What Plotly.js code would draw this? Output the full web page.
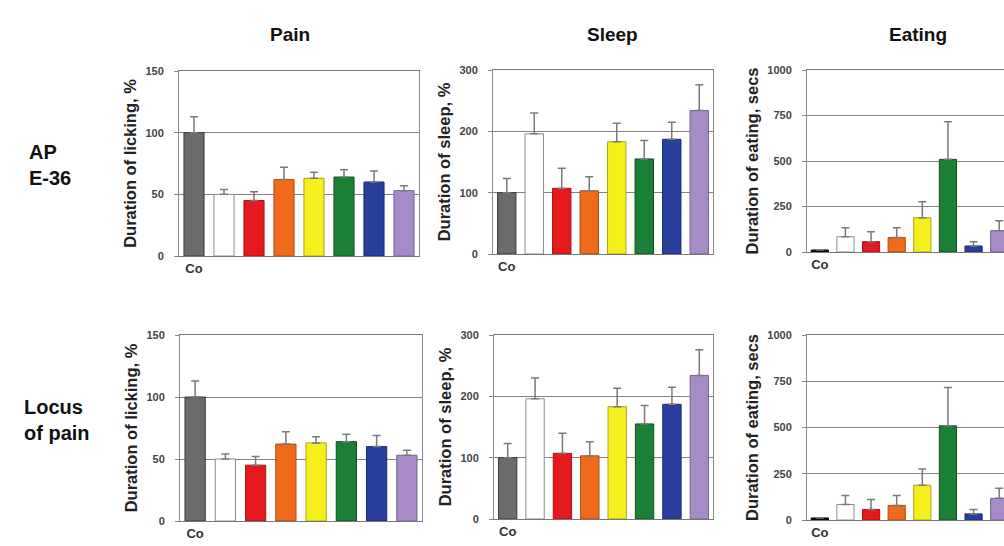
<!DOCTYPE html>
<html>
<head>
<meta charset="utf-8">
<script src="https://cdn.plot.ly/plotly-3.0.1.min.js"></script>
<style>
html, body { margin: 0; padding: 0; overflow: hidden; background: #ffffff; }
#chart { width: 1020px; height: 546px; }
</style>
</head>
<body>
<div id="chart"></div>
<script>
// ---- data ----
const categories = ['Co', 'G2', 'G3', 'G4', 'G5', 'G6', 'G7', 'G8'];
const tickLabels = ['Co'];
const columnTitles = ['Pain', 'Sleep', 'Eating'];
const rowLabels = ['AP<br>E-36', 'Locus<br>of pain'];
const yTitles = ['Duration of licking, %', 'Duration of sleep, %', 'Duration of eating, secs'];

const painValuesAP = [100, 50, 45, 62, 63, 64, 60, 53];
const painErrorsAP = [13, 4, 7, 10, 5, 6, 9, 4];
const sleepValuesAP = [100, 196, 107, 103, 183, 155, 187, 234];
const sleepErrorsAP = [23, 34, 33, 23, 30, 30, 28, 42];
const eatingValuesAP = [11, 84, 57, 79, 188, 509, 33, 117];
const eatingErrorsAP = [0, 49, 54, 54, 88, 207, 24, 55];

const painValuesLocus = [100, 50, 45, 62, 63, 64, 60, 53];
const painErrorsLocus = [13, 4, 7, 10, 5, 6, 9, 4];
const sleepValuesLocus = [100, 196, 107, 103, 183, 155, 187, 234];
const sleepErrorsLocus = [23, 34, 33, 23, 30, 30, 28, 42];
const eatingValuesLocus = [11, 84, 57, 79, 188, 509, 33, 117];
const eatingErrorsLocus = [0, 49, 54, 54, 88, 207, 24, 55];

// ---- styles ----
const W = 1020, H = 546;
const FONT = 'Liberation Sans, Arial, Helvetica, sans-serif';
const fillDefault = ['#6b6b6b', '#ffffff', '#e41a1f', '#ef6a1b', '#f5ef1e', '#1b7f35', '#283f9e', '#a78bc7'];
const lineDefault = ['#3c3c3c', '#8c8c8c', '#a51414', '#a84c12', '#a9a314', '#11521f', '#1b2a72', '#786098'];
const fillEating = ['#151515', '#ffffff', '#e41a1f', '#ef6a1b', '#f5ef1e', '#1b7f35', '#283f9e', '#a78bc7'];
const lineEating = ['#000000', '#8c8c8c', '#a51414', '#a84c12', '#a9a314', '#11521f', '#1b2a72', '#786098'];

const panels = [
  {vals: painValuesAP, errs: painErrorsAP, fill: fillDefault, line: lineDefault, x: [179, 419], y: [71, 256], range: [0, 150], dtick: 50, title: yTitles[0]},
  {vals: sleepValuesAP, errs: sleepErrorsAP, fill: fillDefault, line: lineDefault, x: [493, 713], y: [70, 254], range: [0, 300], dtick: 100, title: yTitles[1]},
  {vals: eatingValuesAP, errs: eatingErrorsAP, fill: fillEating, line: lineEating, x: [807, 1012], y: [70, 252], range: [0, 1000], dtick: 250, title: yTitles[2]},
  {vals: painValuesLocus, errs: painErrorsLocus, fill: fillDefault, line: lineDefault, x: [180, 422], y: [335, 521], range: [0, 150], dtick: 50, title: yTitles[0]},
  {vals: sleepValuesLocus, errs: sleepErrorsLocus, fill: fillDefault, line: lineDefault, x: [494, 713], y: [335, 519], range: [0, 300], dtick: 100, title: yTitles[1]},
  {vals: eatingValuesLocus, errs: eatingErrorsLocus, fill: fillEating, line: lineEating, x: [807, 1012], y: [335, 520], range: [0, 1000], dtick: 250, title: yTitles[2]}
];

const traces = [];
const layout = {
  width: W, height: H,
  margin: {l: 0, r: 0, t: 0, b: 0},
  paper_bgcolor: '#ffffff',
  plot_bgcolor: '#ffffff',
  showlegend: false,
  bargap: 0.33,
  font: {family: FONT, color: '#333333'},
  annotations: []
};

panels.forEach((p, i) => {
  const n = i === 0 ? '' : String(i + 1);
  traces.push({
    type: 'bar',
    x: categories,
    y: p.vals,
    xaxis: 'x' + n,
    yaxis: 'y' + n,
    marker: {color: p.fill, line: {color: p.line, width: 1}},
    error_y: {
      type: 'data', symmetric: false,
      array: p.errs, arrayminus: p.errs.map(() => 0),
      color: '#7a7a7a', thickness: 1.5, width: 4
    },
    hoverinfo: 'x+y'
  });
  layout['xaxis' + n] = {
    domain: [p.x[0] / W, p.x[1] / W],
    anchor: 'y' + n,
    type: 'category',
    tickvals: tickLabels,
    ticktext: tickLabels,
    ticks: '',
    tickfont: {family: FONT, size: 13, color: '#333333', weight: 'bold'},
    showline: true, linecolor: '#777777', linewidth: 1.2, mirror: true,
    showgrid: false, zeroline: false, fixedrange: true
  };
  layout['yaxis' + n] = {
    domain: [1 - p.y[1] / H, 1 - p.y[0] / H],
    anchor: 'x' + n,
    range: p.range,
    dtick: p.dtick,
    tick0: 0,
    ticks: 'outside', ticklen: 4, tickcolor: '#888888',
    ticklabelstandoff: 8,
    tickfont: {family: FONT, size: 11, color: '#444444', weight: 'bold'},
    showline: true, linecolor: '#8a8a8a', linewidth: 1, mirror: true,
    showgrid: true, gridcolor: '#8f7b7b', gridwidth: 1,
    zeroline: false, fixedrange: true,
    title: {text: p.title, font: {family: FONT, size: 16.5, color: '#222222', weight: 'bold'}, standoff: 4}
  };
});

// column titles
const colX = [290, 612, 918];
columnTitles.forEach((t, i) => {
  layout.annotations.push({
    text: t, xref: 'paper', yref: 'paper', x: colX[i] / W, y: 1 - 34 / H,
    xanchor: 'center', yanchor: 'middle', showarrow: false,
    font: {family: FONT, size: 19, color: '#111111', weight: 'bold'}
  });
});

// row labels
const rowY = [165, 420];
const rowX = [27, 22];
rowLabels.forEach((t, i) => {
  layout.annotations.push({
    text: t, xref: 'paper', yref: 'paper', x: rowX[i] / W, y: 1 - rowY[i] / H,
    xanchor: 'left', yanchor: 'middle', align: 'left', showarrow: false,
    font: {family: FONT, size: 20, color: '#111111', weight: 'bold'}
  });
});

Plotly.newPlot('chart', traces, layout, {staticPlot: true, displayModeBar: false});
</script>
</body>
</html>
